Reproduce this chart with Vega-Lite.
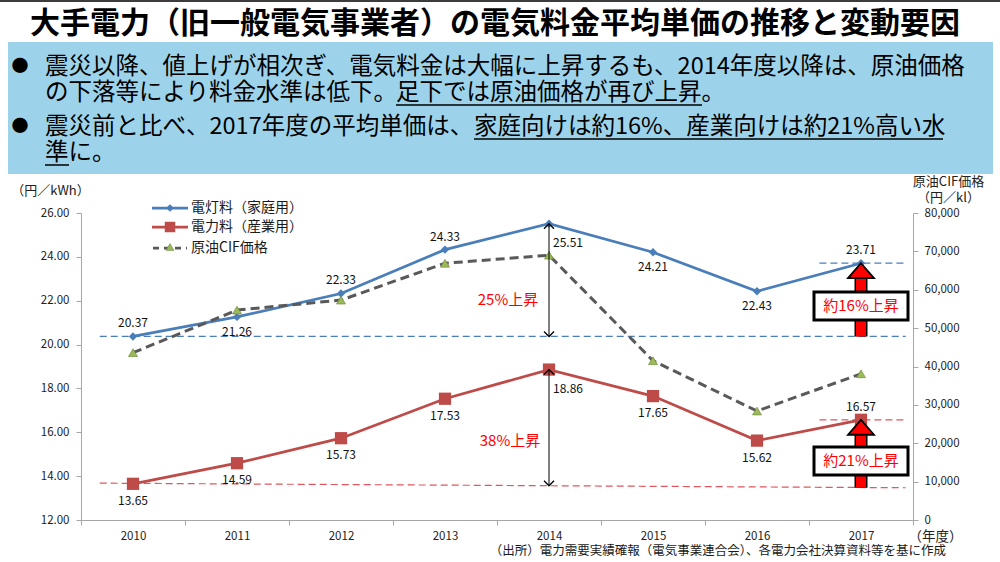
{
"$schema":"https://vega.github.io/schema/vega-lite/v6.json",
"width":1000,"height":562,"autosize":"none","padding":0,"background":"#ffffff",
"config":{"font":"Noto Sans CJK JP","view":{"stroke":null},"axis":{"grid":false}},
"datasets":{"main":[
{"year":"2010","home":20.37,"industry":13.65,"oil":43600},
{"year":"2011","home":21.26,"industry":14.59,"oil":54700},
{"year":"2012","home":22.33,"industry":15.73,"oil":57300},
{"year":"2013","home":24.33,"industry":17.53,"oil":66900},
{"year":"2014","home":25.51,"industry":18.86,"oil":69000},
{"year":"2015","home":24.21,"industry":17.65,"oil":41500},
{"year":"2016","home":22.43,"industry":15.62,"oil":28400},
{"year":"2017","home":23.71,"industry":16.57,"oil":38100}
]},
"layer":[
{"data":{"values":[{}]},
 "layer":[
  {"mark":{"type":"rect","color":"#3c3c3c"},"encoding":{"x":{"datum":0,"type":"quantitative","scale":{"domain":[0,1000],"range":[0,1000],"nice":false,"zero":false},"axis":null},"x2":{"datum":1000},"y":{"datum":0,"type":"quantitative","scale":{"domain":[0,562],"range":[0,562],"nice":false,"zero":false},"axis":null},"y2":{"datum":2}}},
  {"mark":{"type":"text","text":"大手電力（旧一般電気事業者）の電気料金平均単価の推移と変動要因","align":"left","baseline":"middle","fontSize":30,"fontWeight":"bold","color":"#000000"},"encoding":{"x":{"datum":30,"type":"quantitative","scale":{"domain":[0,1000],"range":[0,1000],"nice":false,"zero":false},"axis":null},"y":{"datum":24,"type":"quantitative","scale":{"domain":[0,562],"range":[0,562],"nice":false,"zero":false},"axis":null}}},
  {"mark":{"type":"rect","color":"#9dd3ea"},"encoding":{"x":{"datum":8,"type":"quantitative","scale":{"domain":[0,1000],"range":[0,1000],"nice":false,"zero":false},"axis":null},"x2":{"datum":993},"y":{"datum":42,"type":"quantitative","scale":{"domain":[0,562],"range":[0,562],"nice":false,"zero":false},"axis":null},"y2":{"datum":174}}},
  {"mark":{"type":"text","text":"●","align":"center","baseline":"middle","fontSize":17,"color":"#000000"},"encoding":{"x":{"datum":20,"type":"quantitative","scale":{"domain":[0,1000],"range":[0,1000],"nice":false,"zero":false},"axis":null},"y":{"datum":67,"type":"quantitative","scale":{"domain":[0,562],"range":[0,562],"nice":false,"zero":false},"axis":null}}},
  {"mark":{"type":"text","text":"●","align":"center","baseline":"middle","fontSize":17,"color":"#000000"},"encoding":{"x":{"datum":20,"type":"quantitative","scale":{"domain":[0,1000],"range":[0,1000],"nice":false,"zero":false},"axis":null},"y":{"datum":127,"type":"quantitative","scale":{"domain":[0,562],"range":[0,562],"nice":false,"zero":false},"axis":null}}},
  {"mark":{"type":"text","text":"震災以降、値上げが相次ぎ、電気料金は大幅に上昇するも、2014年度以降は、原油価格","align":"left","baseline":"middle","fontSize":23.5,"color":"#000000"},"encoding":{"x":{"datum":45,"type":"quantitative","scale":{"domain":[0,1000],"range":[0,1000],"nice":false,"zero":false},"axis":null},"y":{"datum":67,"type":"quantitative","scale":{"domain":[0,562],"range":[0,562],"nice":false,"zero":false},"axis":null}}},
  {"mark":{"type":"text","text":"の下落等により料金水準は低下。","align":"left","baseline":"middle","fontSize":23.5,"color":"#000000"},"encoding":{"x":{"datum":45,"type":"quantitative","scale":{"domain":[0,1000],"range":[0,1000],"nice":false,"zero":false},"axis":null},"y":{"datum":93,"type":"quantitative","scale":{"domain":[0,562],"range":[0,562],"nice":false,"zero":false},"axis":null}}},
  {"mark":{"type":"text","text":"足下では原油価格が再び上昇。","align":"left","baseline":"middle","fontSize":23.5,"color":"#000000"},"encoding":{"x":{"datum":396,"type":"quantitative","scale":{"domain":[0,1000],"range":[0,1000],"nice":false,"zero":false},"axis":null},"y":{"datum":93,"type":"quantitative","scale":{"domain":[0,562],"range":[0,562],"nice":false,"zero":false},"axis":null}}},
  {"mark":{"type":"text","text":"震災前と比べ、2017年度の平均単価は、","align":"left","baseline":"middle","fontSize":23.5,"color":"#000000"},"encoding":{"x":{"datum":45,"type":"quantitative","scale":{"domain":[0,1000],"range":[0,1000],"nice":false,"zero":false},"axis":null},"y":{"datum":127,"type":"quantitative","scale":{"domain":[0,562],"range":[0,562],"nice":false,"zero":false},"axis":null}}},
  {"mark":{"type":"text","text":"家庭向けは約16%、産業向けは約21%高い水","align":"left","baseline":"middle","fontSize":23.5,"color":"#000000"},"encoding":{"x":{"datum":474,"type":"quantitative","scale":{"domain":[0,1000],"range":[0,1000],"nice":false,"zero":false},"axis":null},"y":{"datum":127,"type":"quantitative","scale":{"domain":[0,562],"range":[0,562],"nice":false,"zero":false},"axis":null}}},
  {"mark":{"type":"text","text":"準に。","align":"left","baseline":"middle","fontSize":23.5,"color":"#000000"},"encoding":{"x":{"datum":45,"type":"quantitative","scale":{"domain":[0,1000],"range":[0,1000],"nice":false,"zero":false},"axis":null},"y":{"datum":153,"type":"quantitative","scale":{"domain":[0,562],"range":[0,562],"nice":false,"zero":false},"axis":null}}},
  {"mark":{"type":"rule","color":"#000000","strokeWidth":1.5},"encoding":{"x":{"datum":396,"type":"quantitative","scale":{"domain":[0,1000],"range":[0,1000],"nice":false,"zero":false},"axis":null},"x2":{"datum":702},"y":{"datum":105,"type":"quantitative","scale":{"domain":[0,562],"range":[0,562],"nice":false,"zero":false},"axis":null}}},
  {"mark":{"type":"rule","color":"#000000","strokeWidth":1.5},"encoding":{"x":{"datum":474,"type":"quantitative","scale":{"domain":[0,1000],"range":[0,1000],"nice":false,"zero":false},"axis":null},"x2":{"datum":943},"y":{"datum":139,"type":"quantitative","scale":{"domain":[0,562],"range":[0,562],"nice":false,"zero":false},"axis":null}}},
  {"mark":{"type":"rule","color":"#000000","strokeWidth":1.5},"encoding":{"x":{"datum":45,"type":"quantitative","scale":{"domain":[0,1000],"range":[0,1000],"nice":false,"zero":false},"axis":null},"x2":{"datum":69},"y":{"datum":165,"type":"quantitative","scale":{"domain":[0,562],"range":[0,562],"nice":false,"zero":false},"axis":null}}},
  {"mark":{"type":"rule","color":"#4a7ebb","strokeWidth":2.75},"encoding":{"x":{"datum":152,"type":"quantitative","scale":{"domain":[0,1000],"range":[0,1000],"nice":false,"zero":false},"axis":null},"x2":{"datum":188},"y":{"datum":208,"type":"quantitative","scale":{"domain":[0,562],"range":[0,562],"nice":false,"zero":false},"axis":null}}},
  {"mark":{"type":"rule","color":"#be4b48","strokeWidth":2.75},"encoding":{"x":{"datum":152,"type":"quantitative","scale":{"domain":[0,1000],"range":[0,1000],"nice":false,"zero":false},"axis":null},"x2":{"datum":188},"y":{"datum":227,"type":"quantitative","scale":{"domain":[0,562],"range":[0,562],"nice":false,"zero":false},"axis":null}}},
  {"mark":{"type":"rule","color":"#595959","strokeWidth":2.75,"strokeDash":[6,5]},"encoding":{"x":{"datum":153,"type":"quantitative","scale":{"domain":[0,1000],"range":[0,1000],"nice":false,"zero":false},"axis":null},"x2":{"datum":187},"y":{"datum":248,"type":"quantitative","scale":{"domain":[0,562],"range":[0,562],"nice":false,"zero":false},"axis":null}}},
  {"mark":{"type":"point","shape":"diamond","filled":true,"size":60,"color":"#4a7ebb","opacity":1},"encoding":{"x":{"datum":170,"type":"quantitative","scale":{"domain":[0,1000],"range":[0,1000],"nice":false,"zero":false},"axis":null},"y":{"datum":208,"type":"quantitative","scale":{"domain":[0,562],"range":[0,562],"nice":false,"zero":false},"axis":null}}},
  {"mark":{"type":"point","shape":"square","filled":true,"size":110,"color":"#be4b48","opacity":1},"encoding":{"x":{"datum":170,"type":"quantitative","scale":{"domain":[0,1000],"range":[0,1000],"nice":false,"zero":false},"axis":null},"y":{"datum":227,"type":"quantitative","scale":{"domain":[0,562],"range":[0,562],"nice":false,"zero":false},"axis":null}}},
  {"mark":{"type":"point","shape":"triangle-up","filled":true,"size":60,"fill":"#9bbb59","stroke":"#71893f","strokeWidth":0.7,"opacity":1},"encoding":{"x":{"datum":170,"type":"quantitative","scale":{"domain":[0,1000],"range":[0,1000],"nice":false,"zero":false},"axis":null},"y":{"datum":247,"type":"quantitative","scale":{"domain":[0,562],"range":[0,562],"nice":false,"zero":false},"axis":null}}},
  {"mark":{"type":"text","text":"電灯料（家庭用）","align":"left","baseline":"middle","fontSize":14,"color":"#1a1a1a"},"encoding":{"x":{"datum":191,"type":"quantitative","scale":{"domain":[0,1000],"range":[0,1000],"nice":false,"zero":false},"axis":null},"y":{"datum":208,"type":"quantitative","scale":{"domain":[0,562],"range":[0,562],"nice":false,"zero":false},"axis":null}}},
  {"mark":{"type":"text","text":"電力料（産業用）","align":"left","baseline":"middle","fontSize":14,"color":"#1a1a1a"},"encoding":{"x":{"datum":191,"type":"quantitative","scale":{"domain":[0,1000],"range":[0,1000],"nice":false,"zero":false},"axis":null},"y":{"datum":227,"type":"quantitative","scale":{"domain":[0,562],"range":[0,562],"nice":false,"zero":false},"axis":null}}},
  {"mark":{"type":"text","text":"原油CIF価格","align":"left","baseline":"middle","fontSize":14,"color":"#1a1a1a"},"encoding":{"x":{"datum":191,"type":"quantitative","scale":{"domain":[0,1000],"range":[0,1000],"nice":false,"zero":false},"axis":null},"y":{"datum":248,"type":"quantitative","scale":{"domain":[0,562],"range":[0,562],"nice":false,"zero":false},"axis":null}}},
  {"mark":{"type":"text","text":"（出所）電力需要実績確報（電気事業連合会）、各電力会社決算資料等を基に作成","align":"right","baseline":"middle","fontSize":12.5,"color":"#1a1a1a"},"encoding":{"x":{"datum":946,"type":"quantitative","scale":{"domain":[0,1000],"range":[0,1000],"nice":false,"zero":false},"axis":null},"y":{"datum":551,"type":"quantitative","scale":{"domain":[0,562],"range":[0,562],"nice":false,"zero":false},"axis":null}}}
 ]},
{"data":{"name":"main"},
 "encoding":{"x":{"field":"year","type":"ordinal","scale":{"type":"band","range":[81,913],"paddingInner":0,"paddingOuter":0},"axis":{"orient":"bottom","offset":-42,"tickBand":"extent","labelAngle":0,"labelFontSize":11.5,"labelColor":"#222222","labelPadding":5,"tickSize":5,"domainColor":"#a6a6a6","tickColor":"#a6a6a6","title":"（年度）","titleX":935,"titleY":16,"titleAlign":"center","titleBaseline":"middle","titleFontSize":13.5,"titleFontWeight":"normal","titleColor":"#222222"}}},
 "layer":[
  {"data":{"values":[{}]},
   "layer":[
    {"mark":{"type":"rule","color":"#4a7ebb","strokeWidth":1.2,"strokeDash":[7,4]},"encoding":{"x":{"datum":"2010","type":"ordinal","bandPosition":0.18},"x2":{"datum":"2017","bandPosition":0.93},"y":{"datum":20.37,"type":"quantitative","scale":{"domain":[12,26],"range":[520,213],"nice":false,"zero":false},"axis":null}}},
    {"mark":{"type":"rule","color":"#e0575f","strokeWidth":1.2,"strokeDash":[7,4]},"encoding":{"x":{"datum":"2010","type":"ordinal","bandPosition":0.18},"x2":{"datum":"2017","bandPosition":0.93},"y":{"datum":13.68,"type":"quantitative","scale":{"domain":[12,26],"range":[520,213],"nice":false,"zero":false},"axis":null},"y2":{"datum":13.47}}},
    {"mark":{"type":"rule","color":"#4a7ebb","strokeWidth":1.2,"strokeDash":[7,4]},"encoding":{"x":{"datum":"2017","type":"ordinal","bandPosition":0.1},"x2":{"datum":"2017","bandPosition":0.93},"y":{"datum":23.71,"type":"quantitative","scale":{"domain":[12,26],"range":[520,213],"nice":false,"zero":false},"axis":null}}},
    {"mark":{"type":"rule","color":"#e0575f","strokeWidth":1.2,"strokeDash":[7,4]},"encoding":{"x":{"datum":"2017","type":"ordinal","bandPosition":0.1},"x2":{"datum":"2017","bandPosition":0.93},"y":{"datum":16.57,"type":"quantitative","scale":{"domain":[12,26],"range":[520,213],"nice":false,"zero":false},"axis":null}}}
   ]},
  {"transform":[{"fold":["home","industry"],"as":["series","value"]}],
   "encoding":{"y":{"field":"value","type":"quantitative","scale":{"domain":[12,26],"range":[520,213],"nice":false,"zero":false},"axis":{"orient":"left","offset":-81,"values":[12,14,16,18,20,22,24,26],"format":".2f","labelFontSize":11.5,"labelColor":"#222222","tickSize":5,"labelPadding":7,"domainColor":"#a6a6a6","tickColor":"#a6a6a6","title":"（円／kWh）","titleAngle":0,"titleX":-31,"titleY":190,"titleAlign":"center","titleBaseline":"middle","titleFontSize":13,"titleFontWeight":"normal","titleColor":"#222222"}}},
   "layer":[
    {"mark":{"type":"line","strokeWidth":2.75},"encoding":{"color":{"field":"series","type":"nominal","scale":{"domain":["home","industry"],"range":["#4a7ebb","#be4b48"]},"legend":null}}},
    {"transform":[{"filter":{"field":"series","equal":"home"}}],"mark":{"type":"point","shape":"diamond","filled":true,"size":70,"color":"#4a7ebb","opacity":1}},
    {"transform":[{"filter":{"field":"series","equal":"industry"}}],"mark":{"type":"point","shape":"square","filled":true,"size":150,"color":"#be4b48","opacity":1}},
    {"transform":[{"filter":{"and":[{"field":"series","equal":"home"},{"field":"year","oneOf":["2010","2012","2013","2017"]}]}}],"mark":{"type":"text","dy":-13,"fontSize":12,"color":"#111111"},"encoding":{"text":{"field":"value","type":"quantitative","format":".2f"}}},
    {"transform":[{"filter":{"and":[{"field":"series","equal":"home"},{"field":"year","oneOf":["2011","2015","2016"]}]}}],"mark":{"type":"text","dy":15,"fontSize":12,"color":"#111111"},"encoding":{"text":{"field":"value","type":"quantitative","format":".2f"}}},
    {"transform":[{"filter":{"and":[{"field":"series","equal":"industry"},{"field":"year","oneOf":["2010","2011","2012","2013","2015","2016"]}]}}],"mark":{"type":"text","dy":17,"fontSize":12,"color":"#111111"},"encoding":{"text":{"field":"value","type":"quantitative","format":".2f"}}},
    {"transform":[{"filter":{"and":[{"field":"series","equal":"industry"},{"field":"year","oneOf":["2017"]}]}}],"mark":{"type":"text","dy":-13,"fontSize":12,"color":"#111111"},"encoding":{"text":{"field":"value","type":"quantitative","format":".2f"}}},
    {"transform":[{"filter":{"field":"year","equal":"2014"}}],"mark":{"type":"text","dx":19,"dy":19,"fontSize":12,"color":"#111111"},"encoding":{"text":{"field":"value","type":"quantitative","format":".2f"}}}
   ]},
  {"encoding":{"y":{"field":"oil","type":"quantitative","scale":{"domain":[0,80000],"range":[520,213],"nice":false,"zero":false},"axis":{"orient":"right","offset":-87,"values":[0,10000,20000,30000,40000,50000,60000,70000,80000],"format":",.0f","labelFontSize":11.5,"labelColor":"#222222","tickSize":5,"labelPadding":6,"domainColor":"#a6a6a6","tickColor":"#a6a6a6","title":["原油CIF価格","（円／kl）"],"titleAngle":0,"titleX":35,"titleY":175,"titleAlign":"center","titleBaseline":"top","titleFontSize":13,"titleFontWeight":"normal","titleColor":"#222222","titleLineHeight":16}}},
   "layer":[
    {"mark":{"type":"line","color":"#595959","strokeWidth":3,"strokeDash":[9,5]}},
    {"mark":{"type":"point","shape":"triangle-up","filled":true,"size":80,"fill":"#9bbb59","stroke":"#71893f","strokeWidth":0.7,"opacity":1}}
   ]},
  {"data":{"values":[{}]},
   "layer":[
    {"mark":{"type":"rule","color":"#000000","strokeWidth":1},"encoding":{"x":{"datum":"2014","type":"ordinal"},"y":{"datum":25.51,"type":"quantitative","scale":{"domain":[12,26],"range":[520,213],"nice":false,"zero":false},"axis":null},"y2":{"datum":20.37}}},
    {"mark":{"type":"point","shape":"M-1,1L0,0L1,1","filled":false,"size":100,"color":"#000000","strokeWidth":1.3,"opacity":1},"encoding":{"x":{"datum":"2014","type":"ordinal"},"y":{"datum":25.51,"type":"quantitative","scale":{"domain":[12,26],"range":[520,213],"nice":false,"zero":false},"axis":null}}},
    {"mark":{"type":"point","shape":"M-1,-1L0,0L1,-1","filled":false,"size":100,"color":"#000000","strokeWidth":1.3,"opacity":1},"encoding":{"x":{"datum":"2014","type":"ordinal"},"y":{"datum":20.37,"type":"quantitative","scale":{"domain":[12,26],"range":[520,213],"nice":false,"zero":false},"axis":null}}},
    {"mark":{"type":"rule","color":"#000000","strokeWidth":1},"encoding":{"x":{"datum":"2014","type":"ordinal"},"y":{"datum":18.86,"type":"quantitative","scale":{"domain":[12,26],"range":[520,213],"nice":false,"zero":false},"axis":null},"y2":{"datum":13.56}}},
    {"mark":{"type":"point","shape":"M-1,1L0,0L1,1","filled":false,"size":100,"color":"#000000","strokeWidth":1.3,"opacity":1},"encoding":{"x":{"datum":"2014","type":"ordinal"},"y":{"datum":18.86,"type":"quantitative","scale":{"domain":[12,26],"range":[520,213],"nice":false,"zero":false},"axis":null}}},
    {"mark":{"type":"point","shape":"M-1,-1L0,0L1,-1","filled":false,"size":100,"color":"#000000","strokeWidth":1.3,"opacity":1},"encoding":{"x":{"datum":"2014","type":"ordinal"},"y":{"datum":13.56,"type":"quantitative","scale":{"domain":[12,26],"range":[520,213],"nice":false,"zero":false},"axis":null}}},
    {"mark":{"type":"text","text":"25%上昇","dx":-41,"fontSize":15,"color":"#ff0000","baseline":"middle"},"encoding":{"x":{"datum":"2014","type":"ordinal"},"y":{"datum":22.03,"type":"quantitative","scale":{"domain":[12,26],"range":[520,213],"nice":false,"zero":false},"axis":null}}},
    {"mark":{"type":"text","text":"38%上昇","dx":-39,"fontSize":15,"color":"#ff0000","baseline":"middle"},"encoding":{"x":{"datum":"2014","type":"ordinal"},"y":{"datum":15.62,"type":"quantitative","scale":{"domain":[12,26],"range":[520,213],"nice":false,"zero":false},"axis":null}}},
    {"mark":{"type":"rule","color":"#000000","strokeWidth":13},"encoding":{"x":{"datum":"2017","type":"ordinal"},"y":{"datum":20.37,"type":"quantitative","scale":{"domain":[12,26],"range":[520,213],"nice":false,"zero":false},"axis":null},"y2":{"datum":23.1}}},
    {"mark":{"type":"rule","color":"#ff0000","strokeWidth":10},"encoding":{"x":{"datum":"2017","type":"ordinal"},"y":{"datum":20.37,"type":"quantitative","scale":{"domain":[12,26],"range":[520,213],"nice":false,"zero":false},"axis":null},"y2":{"datum":23.1}}},
    {"mark":{"type":"rule","color":"#000000","strokeWidth":13},"encoding":{"x":{"datum":"2017","type":"ordinal"},"y":{"datum":13.47,"type":"quantitative","scale":{"domain":[12,26],"range":[520,213],"nice":false,"zero":false},"axis":null},"y2":{"datum":15.93}}},
    {"mark":{"type":"rule","color":"#ff0000","strokeWidth":10},"encoding":{"x":{"datum":"2017","type":"ordinal"},"y":{"datum":13.47,"type":"quantitative","scale":{"domain":[12,26],"range":[520,213],"nice":false,"zero":false},"axis":null},"y2":{"datum":15.93}}},
    {"mark":{"type":"point","shape":"M-1,-0.3L1,-0.3L1,0.3L-1,0.3Z","filled":true,"size":8836,"fill":"#ffffff","stroke":"#000000","strokeWidth":3,"opacity":1},"encoding":{"x":{"datum":"2017","type":"ordinal"},"y":{"datum":21.76,"type":"quantitative","scale":{"domain":[12,26],"range":[520,213],"nice":false,"zero":false},"axis":null}}},
    {"mark":{"type":"point","shape":"M-1,-0.3L1,-0.3L1,0.3L-1,0.3Z","filled":true,"size":8836,"fill":"#ffffff","stroke":"#000000","strokeWidth":3,"opacity":1},"encoding":{"x":{"datum":"2017","type":"ordinal"},"y":{"datum":14.69,"type":"quantitative","scale":{"domain":[12,26],"range":[520,213],"nice":false,"zero":false},"axis":null}}},
    {"mark":{"type":"point","shape":"M0,0L1,1.15L-1,1.15Z","filled":true,"size":676,"fill":"#ff0000","stroke":"#000000","strokeWidth":1.8,"opacity":1},"encoding":{"x":{"datum":"2017","type":"ordinal"},"y":{"datum":23.71,"type":"quantitative","scale":{"domain":[12,26],"range":[520,213],"nice":false,"zero":false},"axis":null}}},
    {"mark":{"type":"point","shape":"M0,0L1,1.15L-1,1.15Z","filled":true,"size":676,"fill":"#ff0000","stroke":"#000000","strokeWidth":1.8,"opacity":1},"encoding":{"x":{"datum":"2017","type":"ordinal"},"y":{"datum":16.57,"type":"quantitative","scale":{"domain":[12,26],"range":[520,213],"nice":false,"zero":false},"axis":null}}},
    {"mark":{"type":"text","text":"約16%上昇","fontSize":15,"color":"#ff0000","baseline":"middle"},"encoding":{"x":{"datum":"2017","type":"ordinal"},"y":{"datum":21.76,"type":"quantitative","scale":{"domain":[12,26],"range":[520,213],"nice":false,"zero":false},"axis":null}}},
    {"mark":{"type":"text","text":"約21%上昇","fontSize":15,"color":"#ff0000","baseline":"middle"},"encoding":{"x":{"datum":"2017","type":"ordinal"},"y":{"datum":14.69,"type":"quantitative","scale":{"domain":[12,26],"range":[520,213],"nice":false,"zero":false},"axis":null}}}
   ]}
 ],
 "resolve":{"scale":{"y":"independent"}}}
],
"resolve":{"scale":{"x":"independent","y":"independent"}}
}
